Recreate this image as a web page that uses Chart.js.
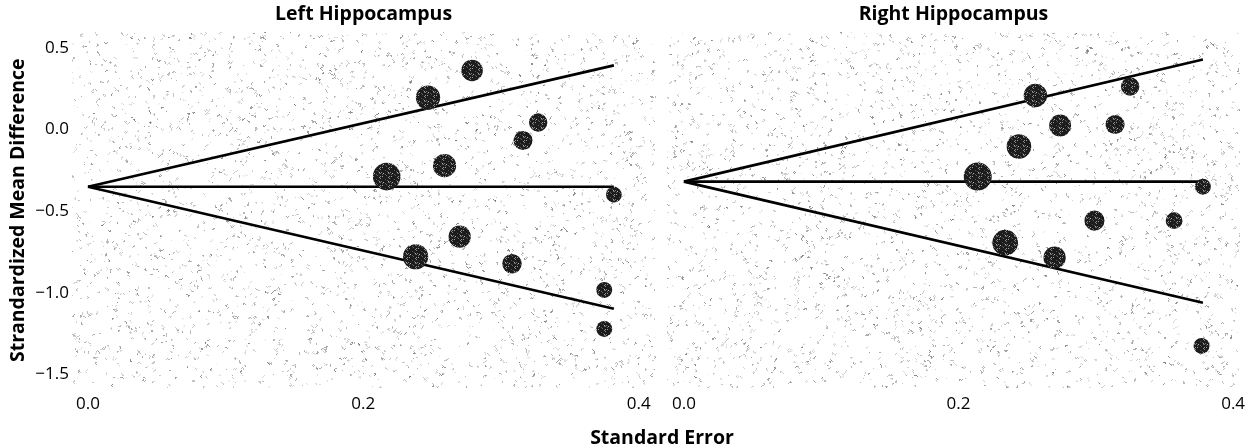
<!DOCTYPE html>
<html>
<head>
<meta charset="utf-8">
<script src="https://cdn.jsdelivr.net/npm/chart.js@4"></script>
<style>
  html, body { margin: 0; padding: 0; background: #ffffff; }
  #wrap { position: relative; width: 1254px; height: 448px; overflow: hidden; background: #fff; }
  canvas { position: absolute; top: 0; }
  #xtitle { position: absolute; left: 0; width: 1324px; top: 423px; text-align: center;
            font: bold 19.5px "Open Sans", sans-serif; color: #000; line-height: 28px; }
</style>
</head>
<body>
<div id="wrap">
  <canvas id="left" width="669" height="448" style="left:0px;width:669px;height:448px"></canvas>
  <canvas id="right" width="601" height="448" style="left:653px;width:601px;height:448px"></canvas>
  <div id="xtitle">Standard Error</div>
</div>
<script>
// ---------- data ----------
const panelTitles = ["Left Hippocampus", "Right Hippocampus"];
const xTicks = [0.0, 0.2, 0.4];
const yTicks = [0.5, 0.0, -0.5, -1.0, -1.5];

// Left hippocampus studies: standard error and standardized mean difference
const leftSE  = [0.279, 0.247, 0.327, 0.316, 0.259, 0.217, 0.382, 0.270, 0.238, 0.308, 0.375, 0.375];
const leftSMD = [0.362, 0.196, 0.043, -0.067, -0.221, -0.288, -0.399, -0.656, -0.779, -0.822, -0.982, -1.221];

// Right hippocampus studies
const rightSE  = [0.256, 0.325, 0.274, 0.314, 0.244, 0.214, 0.378, 0.234, 0.270, 0.299, 0.357, 0.377];
const rightSMD = [0.209, 0.264, 0.025, 0.031, -0.104, -0.288, -0.350, -0.693, -0.785, -0.558, -0.558, -1.325];

// Funnel lines (start at SE = 0, end at the largest SE)
const leftFunnelSE    = [0, 0.382];
const leftPooled      = [-0.350, -0.350];
const leftUpper       = [-0.350, 0.393];
const leftLower       = [-0.350, -1.098];
const rightFunnelSE   = [0, 0.378];
const rightPooled     = [-0.319, -0.319];
const rightUpper      = [-0.319, 0.429];
const rightLower      = [-0.319, -1.061];

// ---------- helpers ----------
const FONT = '"Open Sans", sans-serif';
const pts = (xs, ys) => xs.map((x, i) => ({ x: x, y: ys[i] }));

function mulberry32(a) {
  return function () {
    a |= 0; a = a + 0x6D2B79F5 | 0;
    let t = Math.imul(a ^ a >>> 15, 1 | a);
    t = t + Math.imul(t ^ t >>> 7, 61 | t) ^ t;
    return ((t ^ t >>> 14) >>> 0) / 4294967296;
  };
}

// stippled dark fill for the study markers
function stipple() {
  const c = document.createElement('canvas');
  c.width = 9; c.height = 9;
  const g = c.getContext('2d');
  g.fillStyle = '#1c1c1c';
  g.fillRect(0, 0, 9, 9);
  const rnd = mulberry32(7);
  for (let i = 0; i < 81; i++) {
    if (rnd() < 0.22) {
      const v = 80 + Math.floor(rnd() * 110);
      g.fillStyle = 'rgb(' + v + ',' + v + ',' + v + ')';
      g.fillRect(i % 9, Math.floor(i / 9), 1, 1);
    }
  }
  return g.createPattern(c, 'repeat');
}
const markerFill = stipple();

// speckled grey background texture inside the plot area
const speckle = {
  id: 'speckle',
  beforeDatasetsDraw(chart, args, opts) {
    const a = chart.chartArea, ctx = chart.ctx;
    const rnd = mulberry32(opts.seed || 1);
    ctx.save();
    const walks = Math.round((a.right - a.left) * (a.bottom - a.top) * 0.016);
    for (let i = 0; i < walks; i++) {
      let x = a.left + rnd() * (a.right - a.left);
      let y = a.top + rnd() * (a.bottom - a.top);
      const steps = 1 + Math.floor(rnd() * 6);
      const g = 110 + Math.floor(rnd() * 90);
      ctx.fillStyle = 'rgba(' + g + ',' + g + ',' + g + ',' + (0.3 + rnd() * 0.5).toFixed(2) + ')';
      for (let s = 0; s < steps; s++) {
        if (x >= a.left && x < a.right && y >= a.top && y < a.bottom) ctx.fillRect(Math.floor(x), Math.floor(y), 1, 1);
        x += Math.floor(rnd() * 3) - 1;
        y += Math.floor(rnd() * 3) - 1;
      }
    }
    ctx.restore();
  }
};

function lineDS(xs, ys) {
  return { type: 'line', data: pts(xs, ys), borderColor: '#000', borderWidth: 2.6,
           pointRadius: 0, fill: false, tension: 0, order: 2 };
}

function makeConfig(side) {
  const isLeft = side === 'left';
  const se = isLeft ? leftSE : rightSE;
  const smd = isLeft ? leftSMD : rightSMD;
  const fse = isLeft ? leftFunnelSE : rightFunnelSE;
  const pooled = isLeft ? leftPooled : rightPooled;
  const up = isLeft ? leftUpper : rightUpper;
  const lo = isLeft ? leftLower : rightLower;
  const yScale = {
    type: 'linear', min: -1.583, max: 0.595, display: isLeft,
    border: { display: false }, grid: { display: false, drawTicks: false }
  };
  if (isLeft) {
    Object.assign(yScale, {
      afterBuildTicks: s => { s.ticks = yTicks.map(v => ({ value: v })); },
      afterFit: s => { s.width = 72; s.paddingTop = 0; s.paddingBottom = 0; },
      ticks: { color: '#000', font: { family: FONT, size: 17 }, padding: 3,
               callback: v => (v < 0 ? '\u2212' + Math.abs(v).toFixed(1) : v.toFixed(1)) },
      title: { display: true, text: 'Strandardized Mean Difference', color: '#000',
               font: { family: FONT, size: 19.5, weight: 'bold' }, padding: { top: 7, bottom: 0 } }
    });
  }
  return {
    type: 'scatter',
    data: {
      datasets: [
        { type: 'scatter', data: pts(se, smd), backgroundColor: markerFill, borderWidth: 0,
          pointRadius: c => 3.0 / c.raw.x, pointHoverRadius: c => 3.0 / c.raw.x, order: 1 },
        lineDS(fse, up), lineDS(fse, pooled), lineDS(fse, lo)
      ]
    },
    options: {
      responsive: false, animation: false, events: [],
      layout: { padding: isLeft ? { left: 0, right: 5, top: 0, bottom: 0 } : { left: 7, right: 12, top: 0, bottom: 0 } },
      plugins: {
        legend: { display: false }, tooltip: { enabled: false },
        title: { display: true, text: isLeft ? panelTitles[0] : panelTitles[1], fullSize: false,
                 color: '#000', font: { family: FONT, size: 19.5, weight: 'bold' },
                 padding: { top: 3, bottom: 6 } },
        speckle: { seed: isLeft ? 11 : 23 }
      },
      scales: {
        x: {
          type: 'linear', min: isLeft ? -0.0116 : -0.0123, max: isLeft ? 0.412 : 0.405,
          afterBuildTicks: s => { s.ticks = xTicks.map(v => ({ value: v })); },
          afterFit: s => { s.height = 60; },
          border: { display: false }, grid: { display: false, drawTicks: false },
          ticks: { color: '#000', font: { family: FONT, size: 17 }, padding: 6,
                   maxRotation: 0, callback: v => v.toFixed(1) }
        },
        y: yScale
      }
    },
    plugins: [speckle]
  };
}

new Chart(document.getElementById('left'), makeConfig('left'));
new Chart(document.getElementById('right'), makeConfig('right'));
</script>
</body>
</html>
